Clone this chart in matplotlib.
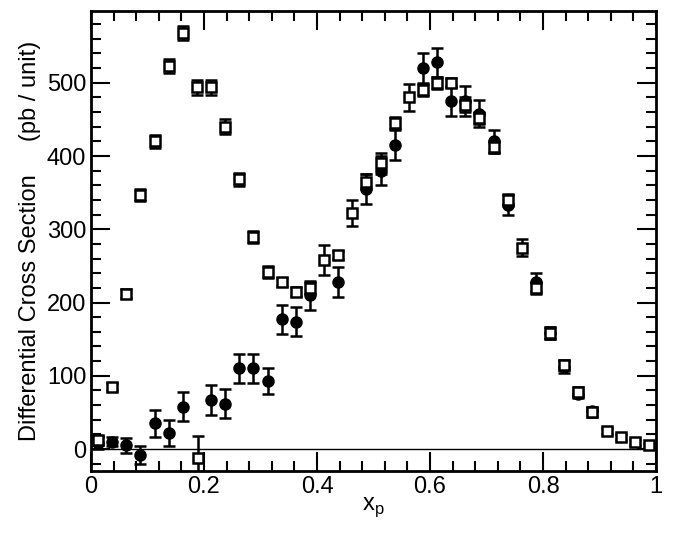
import matplotlib
matplotlib.use("Agg")
import matplotlib.pyplot as plt
import numpy as np
from matplotlib.ticker import MultipleLocator

plt.rcParams['font.family'] = ['Liberation Sans', 'DejaVu Sans']

x_sq = [0.0125,0.0375,0.0625,0.0875,0.1125,0.1375,0.1625,0.1875,0.2125,0.2375,0.2625,0.2875,0.3125,0.3375,0.3625,0.3875,0.4125,0.4375,0.4625,0.4875,0.5125,0.5375,0.5625,0.5875,0.6125,0.6375,0.6625,0.6875,0.7125,0.7375,0.7625,0.7875,0.8125,0.8375,0.8625,0.8875,0.9125,0.9375,0.9625,0.9875,0.19]
y_sq = [12,85,212,347,420,523,568,494,494,440,368,289,242,228,215,220,258,265,322,365,390,445,480,490,500,500,470,452,412,340,275,220,158,115,78,50,25,16,9,5,-12]
e_sq = [6,5,6,8,9,10,10,10,10,10,9,8,8,6,6,8,20,6,18,10,14,8,18,8,8,6,10,8,8,8,12,8,8,7,6,6,4,4,3,3,30]

x_ci = [0.0125,0.0375,0.0625,0.0875,0.1125,0.1375,0.1625,0.2125,0.2375,0.2625,0.2875,0.3125,0.3375,0.3625,0.3875,0.4375,0.4875,0.5125,0.5375,0.5875,0.6125,0.6375,0.6625,0.6875,0.7125,0.7375,0.7875,0.8125,0.8375,0.8625,0.8875]
y_ci = [8,10,5,-8,35,22,58,67,62,110,110,93,177,174,210,228,355,380,415,520,528,475,475,458,420,333,228,158,112,75,52]
e_ci = [8,6,10,12,18,18,20,20,20,20,20,18,20,20,20,20,20,20,20,20,20,20,20,18,16,14,12,8,8,6,6]

x_ticks = [0, 0.2, 0.4, 0.6, 0.8, 1]
x_labels = ['0', '0.2', '0.4', '0.6', '0.8', '1']

fig = plt.figure(figsize=(6.73,5.35), dpi=100)
ax = fig.add_axes([91/673, 1-471/535, (656-91)/673, (471-11)/535])
ax.errorbar(x_ci, y_ci, yerr=e_ci, fmt='o', color='black', ms=8, capsize=4, elinewidth=1.8, capthick=1.8)
ax.errorbar(x_sq, y_sq, yerr=e_sq, fmt='s', color='black', mfc='white', mec='black', mew=1.8, ms=7, capsize=4, elinewidth=1.8, capthick=1.8)
ax.axhline(0, color='black', lw=1)
ax.set_xlim(0, 1)
ax.set_ylim(-30, 598)
ax.set_xticks(x_ticks)
ax.set_xticklabels(x_labels)
ax.xaxis.set_minor_locator(MultipleLocator(0.04))
ax.yaxis.set_major_locator(MultipleLocator(100))
ax.yaxis.set_minor_locator(MultipleLocator(20))
ax.tick_params(which='both', direction='in', top=True, right=True, width=1.5, labelsize=17)
ax.tick_params(which='major', length=14)
ax.tick_params(which='minor', length=7)
for s in ax.spines.values():
    s.set_linewidth(2)
ax.set_ylabel('Differential Cross Section     (pb / unit)', fontsize=17)
ax.set_xlabel('x$_\\mathregular{p}$', fontsize=17, labelpad=-2)
fig.savefig('out.png', dpi=100)
